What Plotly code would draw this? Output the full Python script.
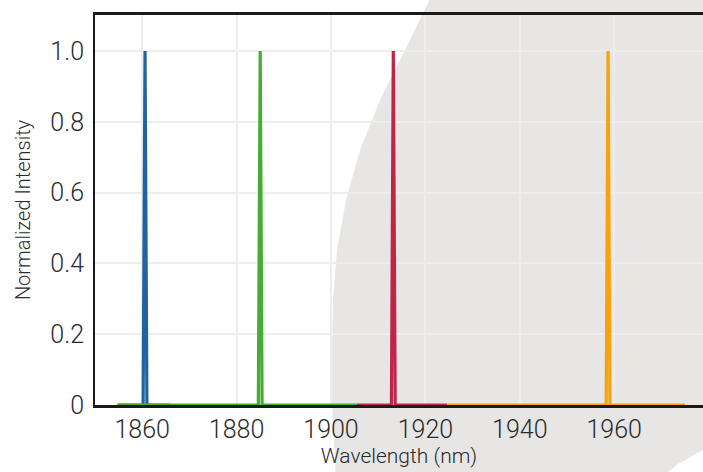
import plotly.graph_objects as go

# ---- data ----
blue_x = [1855.0, 1860.2, 1860.6, 1861.0, 1866.0]
blue_y = [0.0, 0.0, 1.0, 0.0, 0.0]
green_x = [1854.7, 1884.6, 1885.0, 1885.4, 1905.5]
green_y = [0.0, 0.0, 1.0, 0.0, 0.0]
red_x = [1905.5, 1912.8, 1913.2, 1913.6, 1924.6]
red_y = [0.0, 0.0, 1.0, 0.0, 0.0]
orange_x = [1924.6, 1958.3, 1958.7, 1959.1, 1975.0]
orange_y = [0.0, 0.0, 1.0, 0.0, 0.0]

x_ticks = [1860, 1880, 1900, 1920, 1940, 1960]
y_ticks = [0, 0.2, 0.4, 0.6, 0.8, 1.0]
y_ticktext = ["0", "0.2", "0.4", "0.6", "0.8", "1.0"]

series = [
    (blue_x, blue_y, "#1f64a0"),
    (green_x, green_y, "#45ad32"),
    (red_x, red_y, "#c02449"),
    (orange_x, orange_y, "#f5a20c"),
]

W, H = 703, 472
ML, MR, MT, MB = 95, 0, 15, 67
PW, PH = W - ML - MR, H - MT - MB

FONT = "Roboto, 'Liberation Sans', sans-serif"
TXT = "#2b2b2b"

fig = go.Figure()
for xs, ys, col in series:
    fig.add_trace(go.Scatter(x=xs, y=ys, mode="lines",
                             line=dict(color=col, width=3.2),
                             showlegend=False, hoverinfo="skip"))

# decorative gray blob in background (pixel outline -> paper coords)
blob_px = [(432, -5), (405, 50), (380, 100), (360, 150), (346, 200), (337, 250),
           (333, 300), (332, 350), (332, 400), (334, 440), (336, 480),
           (658, 480), (678, 464), (703, 450), (710, 450), (710, -5)]
def to_paper(p):
    return ((p[0] - ML) / PW, (H - MB - p[1]) / PH)
pts = [to_paper(p) for p in blob_px]
path = "M " + " L ".join(f"{x:.4f},{y:.4f}" for x, y in pts) + " Z"
fig.add_shape(type="path", path=path, xref="paper", yref="paper",
              fillcolor="#e7e6e4", line=dict(width=0), layer="below")

fig.update_layout(
    width=W, height=H,
    margin=dict(l=ML, r=MR, t=MT, b=MB),
    paper_bgcolor="white",
    plot_bgcolor="rgba(0,0,0,0)",
    font=dict(family=FONT, color=TXT, weight=300),
    xaxis=dict(
        range=[1850, 1850 + PW / 4.72],
        tickvals=x_ticks,
        showgrid=True, gridcolor="#ededed", gridwidth=2,
        zeroline=False,
        showline=True, linecolor="#1a1a1a", linewidth=2.5, mirror=True,
        ticks="", tickfont=dict(size=25, family=FONT, color=TXT, weight=300),
        title=dict(text="Wavelength (nm)", font=dict(size=21, family=FONT, color=TXT, weight=300),
                   standoff=6),
    ),
    yaxis=dict(
        range=[0, 1.102],
        tickvals=y_ticks, ticktext=y_ticktext,
        showgrid=True, gridcolor="#ededed", gridwidth=2,
        zeroline=False,
        showline=True, linecolor="#1a1a1a", linewidth=2, mirror=False,
        ticks="", tickfont=dict(size=25, family=FONT, color=TXT, weight=300),
        ticklabelstandoff=4,
        title=dict(text="Normalized Intensity", font=dict(size=20, family=FONT, color=TXT, weight=300),
                   standoff=14),
    ),
)

fig.write_html("out.html",
               config={"displayModeBar": False},
               post_script="document.body.style.margin='0';document.body.style.overflow='hidden';")
